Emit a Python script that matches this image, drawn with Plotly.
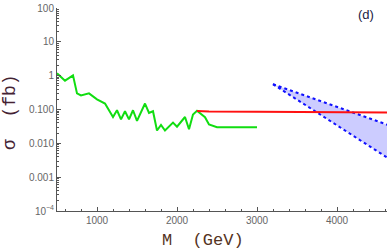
import plotly.graph_objects as go

# ---- data ----
green_x = [500, 600, 700, 750, 800, 900, 1000, 1100, 1200, 1250, 1300, 1350, 1400, 1450,
           1500, 1600, 1650, 1700, 1750, 1800, 1850, 1950, 2000, 2100, 2150, 2200, 2250,
           2350, 2400, 2500, 3000]
green_y = [1.17, 0.71, 1.02, 0.30, 0.26, 0.30, 0.20, 0.15, 0.060, 0.095, 0.051, 0.089, 0.051,
           0.095, 0.046, 0.15, 0.079, 0.089, 0.024, 0.035, 0.024, 0.041, 0.031, 0.060, 0.026,
           0.071, 0.092, 0.059, 0.036, 0.030, 0.030]

red_x = [2250, 2400, 3000, 4000, 4650]
red_y = [0.091, 0.087, 0.086, 0.084, 0.082]

band_x = [3200, 4650]
band_upper = [0.56, 0.034]
band_lower = [0.56, 0.0035]

ytick_vals = [1e-4, 1e-3, 1e-2, 1e-1, 1, 10, 100]
ytick_text = ["10<sup>\u22124</sup>", "0.001", "0.010", "0.100", "1", "10", "100"]
minor_y = [m * 10.0 ** e for e in range(-4, 2) for m in range(2, 10)]

axis_col = "#555555"
tick_font = dict(family="Liberation Sans, Arial, sans-serif", size=10, color="#666666")
title_font = "Liberation Mono, Courier New, monospace"

W, H = 387, 251
L, R, T, B = 57, 0, 8, 40
PW, PH = W - L - R, H - T - B


def px_x(p):
    return (p - L) / PW


def px_y(p):
    return (H - B - p) / PH


fig = go.Figure()

# band
fig.add_trace(go.Scatter(x=band_x, y=band_lower, mode="lines",
                         line=dict(color="rgba(0,0,0,0)", width=0), showlegend=False,
                         hoverinfo="skip"))
fig.add_trace(go.Scatter(x=band_x, y=band_upper, mode="lines", fill="tonexty",
                         fillcolor="rgba(0,0,255,0.2)",
                         line=dict(color="rgba(0,0,0,0)", width=0), showlegend=False,
                         hoverinfo="skip"))
fig.add_trace(go.Scatter(x=band_x, y=band_upper, mode="lines",
                         line=dict(color="#1010ff", width=2, dash="3px,3px"), showlegend=False))
fig.add_trace(go.Scatter(x=band_x, y=band_lower, mode="lines",
                         line=dict(color="#1010ff", width=2, dash="3px,3px"), showlegend=False))

fig.add_trace(go.Scatter(x=green_x, y=green_y, mode="lines",
                         line=dict(color="#11dd11", width=2), showlegend=False))
fig.add_trace(go.Scatter(x=red_x, y=red_y, mode="lines",
                         line=dict(color="#ff1111", width=2), showlegend=False))

fig.update_layout(
    width=W, height=H,
    margin=dict(l=L, r=R, t=T, b=B),
    paper_bgcolor="white", plot_bgcolor="white",
    showlegend=False,
    xaxis=dict(
        range=[500, 4625], showgrid=False, zeroline=False,
        showline=True, linecolor=axis_col, linewidth=1,
        ticks="inside", ticklen=4, tickcolor=axis_col,
        tick0=0, dtick=1000, tickfont=tick_font,
        minor=dict(ticks="inside", ticklen=2, dtick=200, tick0=0, tickcolor=axis_col),
    ),
    yaxis=dict(
        type="log", range=[-4, 2], showgrid=False, zeroline=False,
        showline=True, linecolor=axis_col, linewidth=1,
        ticks="inside", ticklen=4, tickcolor=axis_col,
        tickmode="array", tickvals=ytick_vals, ticktext=ytick_text, tickfont=tick_font,
        minor=dict(ticks="inside", ticklen=2, tickmode="array", tickvals=minor_y,
                   tickcolor=axis_col),
    ),
    annotations=[
        dict(text="(d)", x=px_x(366), y=px_y(15), xref="paper", yref="paper",
             xanchor="center", yanchor="middle", showarrow=False,
             font=dict(family="Liberation Sans, Arial", size=13, color="#222244")),
        dict(text="M  (GeV)", x=px_x(203), y=px_y(240), xref="paper", yref="paper",
             xanchor="center", yanchor="middle", showarrow=False,
             font=dict(family=title_font, size=17, color="#553322")),
        dict(text="\u03c3  (fb)", x=px_x(10), y=px_y(112), xref="paper", yref="paper",
             xanchor="center", yanchor="middle", showarrow=False, textangle=-90,
             font=dict(family=title_font, size=18, color="#442233")),
    ],
)

fig.write_html("out.html", config={"displayModeBar": False},
               post_script="document.body.style.margin='0';document.body.style.overflow='hidden';")
